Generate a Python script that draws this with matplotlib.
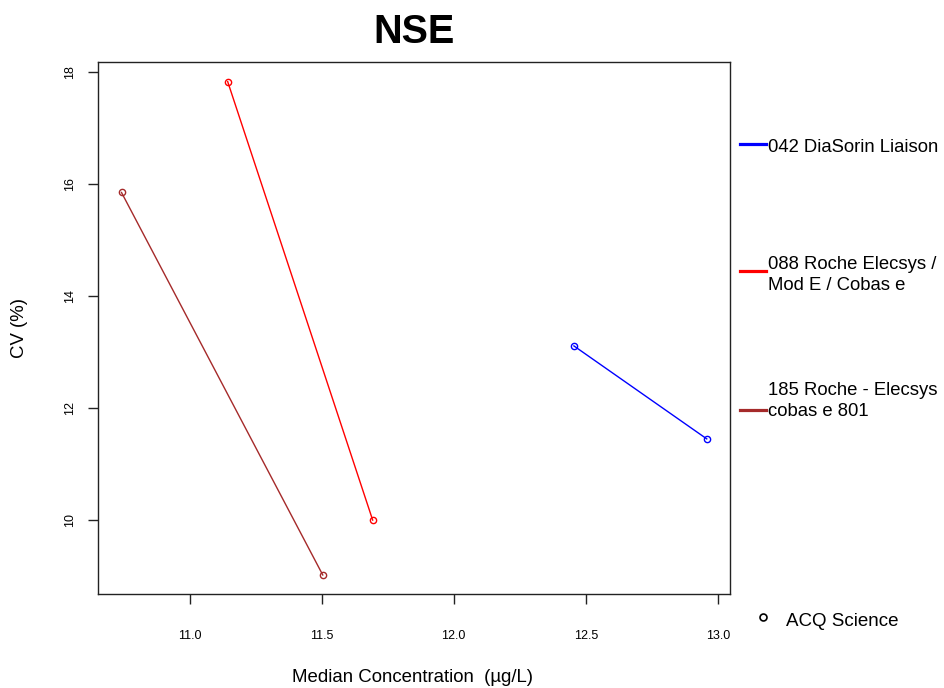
import matplotlib
matplotlib.use("Agg")
import matplotlib.pyplot as plt
from matplotlib.lines import Line2D

plt.rcParams['font.family'] = ['Liberation Sans', 'DejaVu Sans']

series_names = ["042 DiaSorin Liaison", "088 Roche Elecsys /\nMod E / Cobas e", "185 Roche - Elecsys\ncobas e 801"]
series_colors = ["#0000FF", "#FF0000", "#A52A2A"]
x_042 = [12.455, 12.958]
y_042 = [13.11, 11.45]
x_088 = [11.144, 11.693]
y_088 = [17.83, 10.00]
x_185 = [10.742, 11.504]
y_185 = [15.85, 9.02]
xs = [x_042, x_088, x_185]
ys = [y_042, y_088, y_185]
x_ticks = [11.0, 11.5, 12.0, 12.5, 13.0]
y_ticks = [10, 12, 14, 16, 18]

fig = plt.figure(figsize=(9.44, 6.88), dpi=100)
ax = fig.add_axes([98/944, 1-594/688, (730-98)/944, (594-62)/688])

for x, y, c in zip(xs, ys, series_colors):
    ax.plot(x, y, color=c, lw=1.0, marker='o', markersize=4.5,
            markerfacecolor='none', markeredgecolor=c, markeredgewidth=1.0)

ax.set_xlim(10.653, 13.046)
ax.set_ylim(8.68, 18.18)
ax.set_xticks(x_ticks)
ax.set_xticklabels([f"{v:.1f}" for v in x_ticks], fontsize=9)
ax.set_yticks(y_ticks)
ax.set_yticklabels([str(v) for v in y_ticks], fontsize=9, rotation=90, va='center')
ax.tick_params(axis='x', direction='out', length=7, width=1, pad=19, color='#222222')
ax.tick_params(axis='y', direction='out', length=7, width=1, pad=9, color='#222222')
for s in ax.spines.values():
    s.set_linewidth(1.0)
    s.set_color('#222222')

fig.text(414/944, 1-32/688, "NSE", fontsize=28.5, fontweight='bold', ha='center', va='center')
fig.text(412/944, 1-678/688, "Median Concentration  (µg/L)", fontsize=13.4, ha='center', va='center')
fig.text(20/944, 1-328/688, "CV (%)", fontsize=13.4, ha='center', va='center', rotation=90)

# legend drawn manually
leg_y = [144, 271, 410]
text_y = [147, 275, 401]
for name, c, ly, ty in zip(series_names, series_colors, leg_y, text_y):
    fig.add_artist(Line2D([740/944, 766/944], [1-ly/688, 1-ly/688], color=c, lw=2.3,
                          transform=fig.transFigure))
    fig.text(768/944, 1-ty/688, name, fontsize=13.3, ha='left', va='center', linespacing=1.25)

fig.add_artist(Line2D([763/944], [1-617/688], marker='o', markersize=5, markerfacecolor='none',
                      markeredgecolor='black', markeredgewidth=1.2, linestyle='none',
                      transform=fig.transFigure))
fig.text(786/944, 1-621/688, "ACQ Science", fontsize=13.5, ha='left', va='center')

fig.savefig("out.png", dpi=100)
